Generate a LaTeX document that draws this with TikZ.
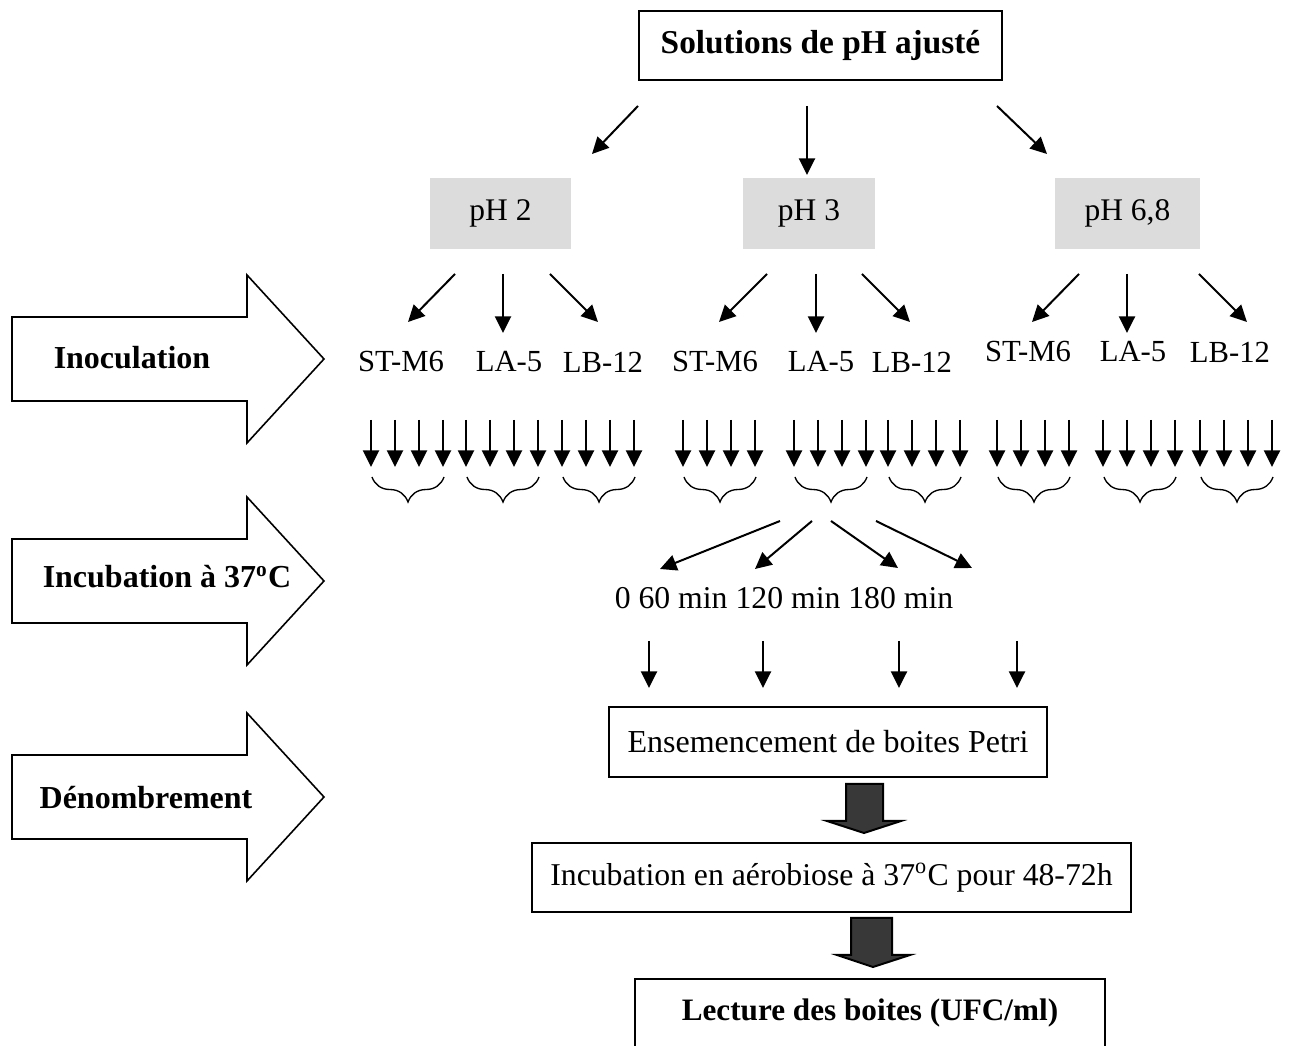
\documentclass[tikz,border=0pt]{standalone}
\usepackage{fontspec}
\setmainfont{Liberation Serif}
\usetikzlibrary{arrows.meta,decorations.pathreplacing}
\definecolor{phgray}{HTML}{DCDCDC}
\definecolor{darkfill}{HTML}{383838}

\begin{document}
\begin{tikzpicture}[x=0.375pt,y=-0.375pt,>={Triangle[length=6.2pt,width=6pt]},
  every node/.style={font=\fontsize{12}{14}\selectfont},
  boldtext/.style={font=\fontsize{#1}{14}\selectfont\bfseries},
  mainbox/.style={draw,line width=0.75pt,inner sep=0pt,minimum height=25.9pt},
  phbox/.style={fill=phgray,inner sep=0pt,minimum height=26.6pt,minimum width=#1,
    font=\fontsize{11.8}{14}\selectfont},
  strain/.style={font=\fontsize{11.5}{14}\selectfont},
  arr/.style={->,line width=0.75pt},
  brc/.style={decorate,decoration={brace,mirror,amplitude=9.4pt},line width=0.5pt},
  bigarrow/.style={draw,line width=0.6pt,fill=white},
  grayarrow/.style={draw,line width=0.75pt,fill=darkfill}]
  \useasboundingbox (0,0) rectangle (1294,1046);

  % Steps on the left
  \foreach \y in {359,581,797}
    \draw[bigarrow] (12,\y-42) -- (247,\y-42) -- (247,\y-84) -- (324,\y)
      -- (247,\y+84) -- (247,\y+42) -- (12,\y+42) -- cycle;
  \node[boldtext=12] (inoc) at (132,358) {Inoculation};
  \node[boldtext=12] (incub) at (167,577) {Incubation à 37\textsuperscript{o}C};
  \node[boldtext=12] (denomb) at (146,798) {Dénombrement};

  % Top box and pH boxes
  \node[mainbox,minimum width=136.1pt,boldtext=12.5] (sol) at (820.5,45.5) {Solutions de pH ajusté};
  \node[phbox=52.9pt] (ph2) at (500.5,213.5) {pH 2};
  \node[phbox=49.5pt] (ph3) at (809,213.5) {pH 3};
  \node[phbox=54.4pt] (ph68) at (1127.5,213.5) {pH 6,8};

  \coordinate (t1s) at (638,106);  \coordinate (t1e) at (592,154);
  \coordinate (t2s) at (807,106);  \coordinate (t2e) at (807,175);
  \coordinate (t3s) at (997,106);  \coordinate (t3e) at (1047,154);
  \draw[arr] (t1s) -- (t1e);
  \draw[arr] (t2s) -- (t2e);
  \draw[arr] (t3s) -- (t3e);

  % Strains under each pH
  \foreach \g/\xa/\ss/\se/\ls/\le/\xst/\xla/\xlb/\yl in
    {1/503/455/408/550/598/401/509/603/362,
     2/816/767/719/862/910/715/821/912/362,
     3/1127/1079/1032/1199/1247/1028/1133/1230/352}{
    \node[strain] (st\g) at (\xst,\yl) {ST-M6};
    \node[strain] (la\g) at (\xla,\yl) {LA-5};
    \node[strain] (lb\g) at (\xlb,\yl) {LB-12};
    \coordinate (sa\g) at (\ss,274);  \coordinate (sb\g) at (\se,322);
    \coordinate (aa\g) at (\xa,274);  \coordinate (ab\g) at (\xa,333);
    \coordinate (ba\g) at (\ls,274);  \coordinate (bb\g) at (\le,322);
    \draw[arr] (sa\g) -- (sb\g);
    \draw[arr] (aa\g) -- (ab\g);
    \draw[arr] (ba\g) -- (bb\g);
  }

  % Four samples per strain
  \foreach \s [count=\g] in {371,466,562,683,794,888,997,1103,1200}{
    \foreach \k in {0,...,3}{
      \coordinate (d\g-\k) at (\s+24*\k,420);
      \draw[arr] (d\g-\k) -- ++(0,47);
    }
    \coordinate (bl\g) at (\s+1,477);
    \coordinate (br\g) at (\s+73,477);
    \draw[brc] (bl\g) -- (br\g);
  }

  % Sampling times
  \node[font=\fontsize{11.9}{14}\selectfont] (times) at (784,598) {0 60 min 120 min 180 min};
  \coordinate (f1s) at (780,521);  \coordinate (f1e) at (660,569);
  \coordinate (f2s) at (812,521);  \coordinate (f2e) at (755,569);
  \coordinate (f3s) at (831,521);  \coordinate (f3e) at (898,568);
  \coordinate (f4s) at (876,521);  \coordinate (f4e) at (972,568);
  \foreach \i in {1,...,4}
    \draw[arr] (f\i s) -- (f\i e);
  \foreach \x [count=\i] in {649,763,899,1017}{
    \coordinate (p\i) at (\x,641);
    \draw[arr] (p\i) -- ++(0,47);
  }

  % Plating and reading
  \node[mainbox,minimum width=164.3pt,minimum height=26.25pt] (ens) at (828,742) {Ensemencement de boites Petri};
  \node[mainbox,minimum width=224.6pt,font=\fontsize{11.9}{14}\selectfont] (aero) at (831.5,877.5) {Incubation en aérobiose à 37\textsuperscript{o}C pour 48-72h};
  \node[mainbox,minimum width=176.3pt,boldtext=11.7] (lect) at (870,1013.5) {Lecture des boites (UFC/ml)};

  \draw[grayarrow] (846,784) -- (883,784) -- (883,821) -- (901,821) -- (864,833)
    -- (827,821) -- (846,821) -- cycle;
  \draw[grayarrow] (851,918) -- (892,918) -- (892,955) -- (910,955) -- (873,967)
    -- (837,955) -- (851,955) -- cycle;
\end{tikzpicture}
\end{document}
